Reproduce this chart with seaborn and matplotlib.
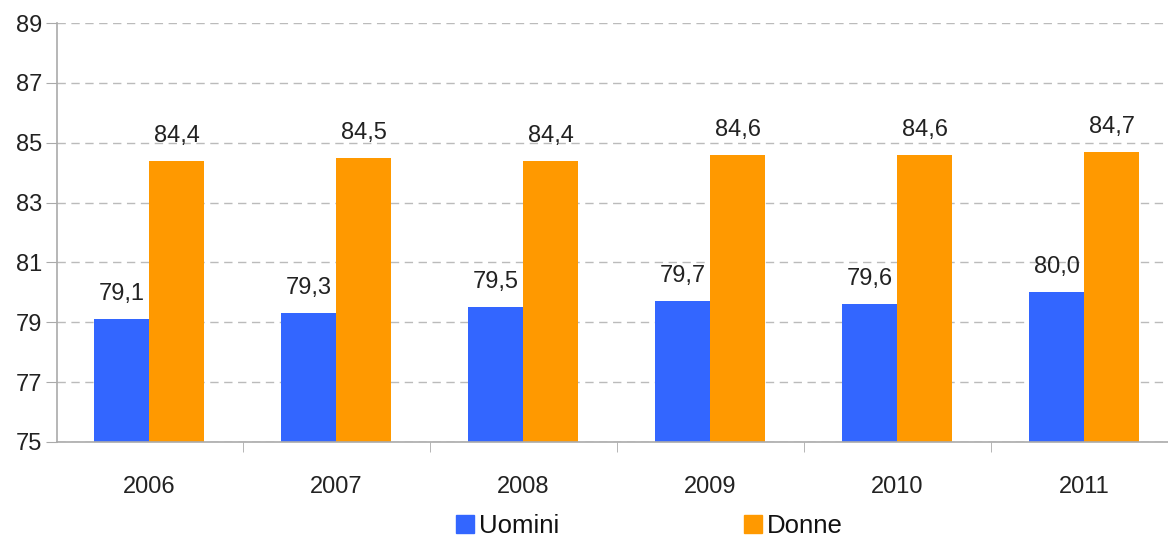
import matplotlib
matplotlib.use("Agg")
import matplotlib.pyplot as plt
from matplotlib.patches import Patch
import seaborn as sns
import pandas as pd

anni = ["2006", "2007", "2008", "2009", "2010", "2011"]
uomini = [79.1, 79.3, 79.5, 79.7, 79.6, 80.0]
donne = [84.4, 84.5, 84.4, 84.6, 84.6, 84.7]
serie = ["Uomini", "Donne"]
colori = ["#3366FF", "#FF9900"]

df = pd.DataFrame({
    "anno": anni * 2,
    "valore": uomini + donne,
    "sesso": ["Uomini"] * len(anni) + ["Donne"] * len(anni),
})

sns.set_style("white")
plt.rcParams['font.family'] = ['Liberation Sans', 'DejaVu Sans']

fig = plt.figure(figsize=(11.68, 5.37), dpi=100)
ax = fig.add_axes([0.049, 0.177, 0.951, 0.78])

sns.barplot(data=df, x="anno", y="valore", hue="sesso", hue_order=serie,
            palette=colori, width=0.59, ax=ax, legend=False, errorbar=None,
            saturation=1, linewidth=0)

ax.set_ylim(75, 89)
ax.set_yticks(range(75, 90, 2))
ax.set_xlabel("")
ax.set_ylabel("")

ax.yaxis.grid(True, color="#BBBBBB", linestyle=(0, (6, 4)), linewidth=1)
ax.set_axisbelow(True)
for s in ["top", "right"]:
    ax.spines[s].set_visible(False)
for s in ["left", "bottom"]:
    ax.spines[s].set_color("#AAAAAA")
    ax.spines[s].set_linewidth(1.2)

ax.tick_params(axis="y", labelsize=17, length=8, color="#AAAAAA", left=True, pad=3,
               labelcolor="#222222")
ax.tick_params(axis="x", labelsize=17, bottom=False, pad=21, labelcolor="#222222")
# tacche tra le categorie
ax.set_xticks([i + 0.5 for i in range(-1, 5)], minor=True)
ax.tick_params(axis="x", which="minor", bottom=True, length=7, color="#AAAAAA")
ax.set_xlim(-0.492, 5.449)

for cont in ax.containers:
    ax.bar_label(cont, labels=[f"{v:.1f}".replace(".", ",") for v in cont.datavalues],
                 padding=10, fontsize=17, color="#222222")

handles = [Patch(color=c, label=n) for n, c in zip(serie, colori)]
fig.legend(handles=handles, loc="lower center", bbox_to_anchor=(0.556, -0.045), ncol=2,
           frameon=False, fontsize=18.5, handlelength=0.7, handleheight=0.7,
           handletextpad=0.2, columnspacing=7.2, labelcolor="#111111")

fig.savefig("out.png", dpi=100)
